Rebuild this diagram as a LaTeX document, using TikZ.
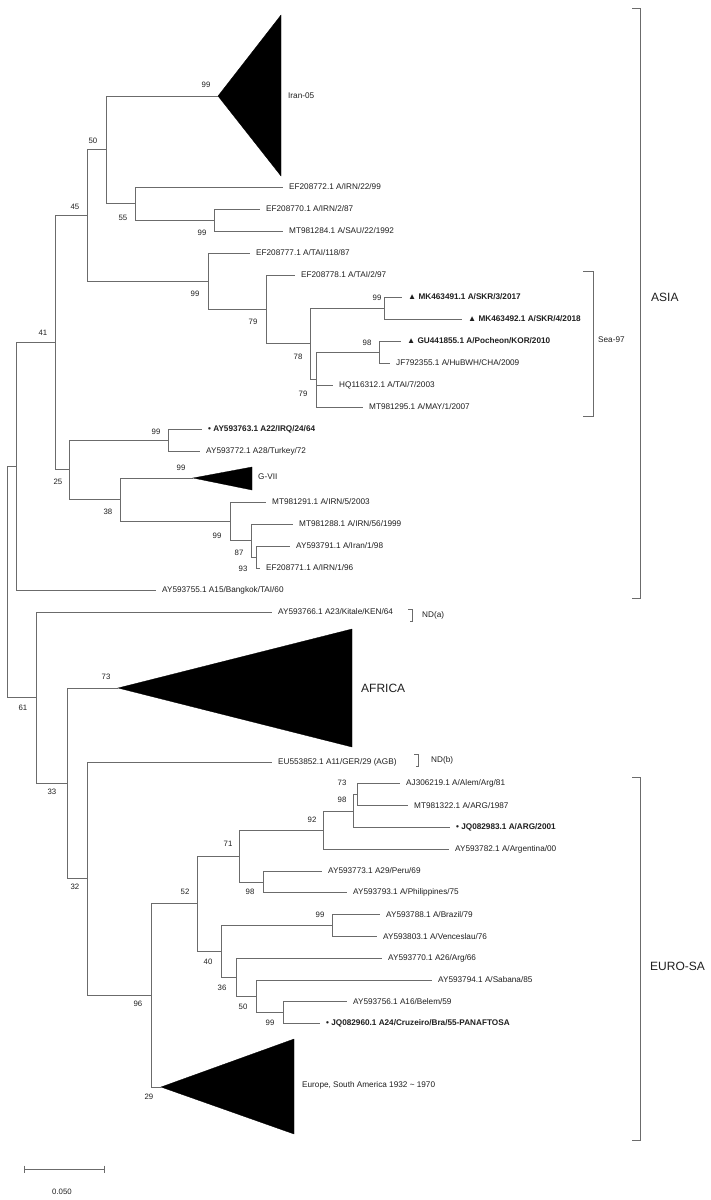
\documentclass[tikz,border=0pt]{standalone}
\usepackage{fontspec}
\setmainfont{Liberation Sans}
\usetikzlibrary{calc}
\newcommand{\lfnt}{\fontsize{8.2}{9}\selectfont}
\newcommand{\bfnt}{\fontsize{7.8}{9}\selectfont}
\newcommand{\rfnt}{\fontsize{12}{14}\selectfont}
\definecolor{linec}{gray}{0.42}
\definecolor{txtc}{gray}{0.12}
\tikzset{
  br/.style={draw=linec, line width=0.65pt},
  brk/.style={draw=linec, line width=0.65pt},
  leaf/.style={anchor=west, inner sep=0pt, xshift=6pt, font=\lfnt, text=txtc},
  bleaf/.style={leaf, font=\lfnt\bfseries},
  boot/.style={inner sep=0pt, font=\bfnt, text=txtc},
  clade/.style={fill=black, draw=black, line width=0.3pt, line join=miter},
  cladelab/.style={anchor=west, inner sep=0pt, font=\lfnt, text=txtc},
  region/.style={anchor=west, inner sep=0pt, font=\rfnt, text=txtc},
}
\begin{document}
\begin{tikzpicture}[x=1pt,y=-1pt]
\useasboundingbox[fill=white] (0,0) rectangle (711,1200);
% ---------- upper part (ASIA) ----------
\coordinate (r) at (7,582);
\coordinate (n16) at (16,466.3);
\coordinate (n55) at (55,342.65);
\coordinate (n87) at (87,215.5);
\coordinate (n106) at (106,149.8);
\coordinate (aIran) at (218,96);
\coordinate (n135) at (135,203.5);
\coordinate (t1) at (283,187);
\coordinate (n214) at (214,220);
\coordinate (t2) at (260,209);
\coordinate (t3) at (283,231);
\coordinate (n208) at (208,281.2);
\coordinate (t4) at (250,253);
\coordinate (n266) at (266,309.4);
\coordinate (t5) at (295,275);
\coordinate (n310) at (310,343.8);
\coordinate (n384) at (384,308);
\coordinate (t6) at (402,297);
\coordinate (t7) at (462,319);
\coordinate (n316) at (316,379.5);
\coordinate (n379) at (379,352);
\coordinate (t8) at (401,341);
\coordinate (t9) at (390,363);
\coordinate (t10) at (333,385);
\coordinate (t11) at (363,407);
\coordinate (n69) at (69,469.8);
\coordinate (n168) at (168,440);
\coordinate (t12) at (202,429);
\coordinate (t13) at (200,451);
\coordinate (n120) at (120,499.6);
\coordinate (aG) at (193,478);
\coordinate (n230) at (230,521.3);
\coordinate (t14) at (266,502);
\coordinate (n251) at (251,540.5);
\coordinate (t15) at (293,524);
\coordinate (n256u) at (256,557);
\coordinate (t16) at (290,546);
\coordinate (t17) at (260,568);
\coordinate (t18) at (156,590);
% ---------- lower part ----------
\coordinate (n36) at (36,697.7);
\coordinate (t19) at (272,612);
\coordinate (n67) at (67,783.3);
\coordinate (aAf) at (118,688);
\coordinate (n87b) at (87,878.7);
\coordinate (t20) at (272,762);
\coordinate (n151) at (151,995.4);
\coordinate (aEu) at (161,1087);
\coordinate (n197) at (197,903.7);
\coordinate (n239) at (239,856);
\coordinate (n323) at (323,830.1);
\coordinate (n353) at (353,811);
\coordinate (n357) at (357,794.7);
\coordinate (t21) at (400,783.8);
\coordinate (t22) at (408,805.6);
\coordinate (t23) at (450,827.4);
\coordinate (t24) at (449,849.2);
\coordinate (n263) at (263,881.9);
\coordinate (t25) at (322,871);
\coordinate (t26) at (347,892.8);
\coordinate (n221) at (221,951.4);
\coordinate (n332) at (332,925.5);
\coordinate (t27) at (380,914.6);
\coordinate (t28) at (377,936.4);
\coordinate (n236) at (236,977.3);
\coordinate (t29) at (382,958.2);
\coordinate (n256l) at (256,996.4);
\coordinate (t30) at (432,980);
\coordinate (n283) at (283,1012.7);
\coordinate (t31) at (347,1001.8);
\coordinate (t32) at (320,1023.6);

% ---------- branches ----------
\draw[br] (r) |- (n16);  \draw[br] (r) |- (n36);
\draw[br] (n16) |- (n55); \draw[br] (n16) |- (t18);
\draw[br] (n55) |- (n87); \draw[br] (n55) |- (n69);
\draw[br] (n87) |- (n106); \draw[br] (n87) |- (n208);
\draw[br] (n106) |- (aIran); \draw[br] (n106) |- (n135);
\draw[br] (n135) |- (t1); \draw[br] (n135) |- (n214);
\draw[br] (n214) |- (t2); \draw[br] (n214) |- (t3);
\draw[br] (n208) |- (t4); \draw[br] (n208) |- (n266);
\draw[br] (n266) |- (t5); \draw[br] (n266) |- (n310);
\draw[br] (n310) |- (n384); \draw[br] (n310) |- (n316);
\draw[br] (n384) |- (t6); \draw[br] (n384) |- (t7);
\draw[br] (n316) |- (n379); \draw[br] (n316) |- (t10); \draw[br] (n316) |- (t11);
\draw[br] (n379) |- (t8); \draw[br] (n379) |- (t9);
\draw[br] (n69) |- (n168); \draw[br] (n69) |- (n120);
\draw[br] (n168) |- (t12); \draw[br] (n168) |- (t13);
\draw[br] (n120) |- (aG); \draw[br] (n120) |- (n230);
\draw[br] (n230) |- (t14); \draw[br] (n230) |- (n251);
\draw[br] (n251) |- (t15); \draw[br] (n251) |- (n256u);
\draw[br] (n256u) |- (t16); \draw[br] (n256u) |- (t17);
\draw[br] (n36) |- (t19); \draw[br] (n36) |- (n67);
\draw[br] (n67) |- (aAf); \draw[br] (n67) |- (n87b);
\draw[br] (n87b) |- (t20); \draw[br] (n87b) |- (n151);
\draw[br] (n151) |- (n197); \draw[br] (n151) |- (aEu);
\draw[br] (n197) |- (n239); \draw[br] (n197) |- (n221);
\draw[br] (n239) |- (n323); \draw[br] (n239) |- (n263);
\draw[br] (n323) |- (n353); \draw[br] (n323) |- (t24);
\draw[br] (n353) |- (n357); \draw[br] (n353) |- (t23);
\draw[br] (n357) |- (t21); \draw[br] (n357) |- (t22);
\draw[br] (n263) |- (t25); \draw[br] (n263) |- (t26);
\draw[br] (n221) |- (n332); \draw[br] (n221) |- (n236);
\draw[br] (n332) |- (t27); \draw[br] (n332) |- (t28);
\draw[br] (n236) |- (t29); \draw[br] (n236) |- (n256l);
\draw[br] (n256l) |- (t30); \draw[br] (n256l) |- (n283);
\draw[br] (n283) |- (t31); \draw[br] (n283) |- (t32);

% ---------- collapsed clades ----------
\fill[clade] (aIran) -- (281,15) -- (281,176) -- cycle;
\fill[clade] (aG) -- (252,467) -- (252,490) -- cycle;
\fill[clade] (aAf) -- (352,629) -- (352,747) -- cycle;
\fill[clade] (aEu) -- (294,1039) -- (294,1134) -- cycle;
\node[cladelab] (lIran) at (288,96) {Iran-05};
\node[cladelab] (lG) at (258,477) {G-VII};
\node[region] (lAf) at (361,688) {AFRICA};
\node[cladelab] (lEu) at (302,1085) {Europe, South America 1932 \char"007E{} 1970};

% ---------- leaf labels ----------
\node[leaf] (L1) at (t1) {EF208772.1 A/IRN/22/99};
\node[leaf] (L2) at (t2) {EF208770.1 A/IRN/2/87};
\node[leaf] (L3) at (t3) {MT981284.1 A/SAU/22/1992};
\node[leaf] (L4) at (t4) {EF208777.1 A/TAI/118/87};
\node[leaf] (L5) at (t5) {EF208778.1 A/TAI/2/97};
\node[bleaf] (L6) at (t6) {▲ MK463491.1 A/SKR/3/2017};
\node[bleaf] (L7) at (t7) {▲ MK463492.1 A/SKR/4/2018};
\node[bleaf] (L8) at (t8) {▲ GU441855.1 A/Pocheon/KOR/2010};
\node[leaf] (L9) at (t9) {JF792355.1 A/HuBWH/CHA/2009};
\node[leaf] (L10) at (t10) {HQ116312.1 A/TAI/7/2003};
\node[leaf] (L11) at (t11) {MT981295.1 A/MAY/1/2007};
\node[bleaf] (L12) at (t12) {• AY593763.1 A22/IRQ/24/64};
\node[leaf] (L13) at (t13) {AY593772.1 A28/Turkey/72};
\node[leaf] (L14) at (t14) {MT981291.1 A/IRN/5/2003};
\node[leaf] (L15) at (t15) {MT981288.1 A/IRN/56/1999};
\node[leaf] (L16) at (t16) {AY593791.1 A/Iran/1/98};
\node[leaf] (L17) at (t17) {EF208771.1 A/IRN/1/96};
\node[leaf] (L18) at (t18) {AY593755.1 A15/Bangkok/TAI/60};
\node[leaf] (L19) at (t19) {AY593766.1 A23/Kitale/KEN/64};
\node[leaf] (L20) at (t20) {EU553852.1 A11/GER/29 (AGB)};
\node[leaf] (L21) at (t21) {AJ306219.1 A/Alem/Arg/81};
\node[leaf] (L22) at (t22) {MT981322.1 A/ARG/1987};
\node[bleaf] (L23) at (t23) {• JQ082983.1 A/ARG/2001};
\node[leaf] (L24) at (t24) {AY593782.1 A/Argentina/00};
\node[leaf] (L25) at (t25) {AY593773.1 A29/Peru/69};
\node[leaf] (L26) at (t26) {AY593793.1 A/Philippines/75};
\node[leaf] (L27) at (t27) {AY593788.1 A/Brazil/79};
\node[leaf] (L28) at (t28) {AY593803.1 A/Venceslau/76};
\node[leaf] (L29) at (t29) {AY593770.1 A26/Arg/66};
\node[leaf] (L30) at (t30) {AY593794.1 A/Sabana/85};
\node[leaf] (L31) at (t31) {AY593756.1 A16/Belem/59};
\node[bleaf] (L32) at (t32) {• JQ082960.1 A24/Cruzeiro/Bra/55-PANAFTOSA};

% ---------- bootstrap values ----------
\node[boot] (b1) at (206,85) {99};
\node[boot] (b2) at (93,141) {50};
\node[boot] (b3) at (123,218) {55};
\node[boot] (b4) at (202,233) {99};
\node[boot] (b5) at (75,207) {45};
\node[boot] (b6) at (195,294) {99};
\node[boot] (b7) at (253,322) {79};
\node[boot] (b8) at (377,298) {99};
\node[boot] (b9) at (298,357) {78};
\node[boot] (b10) at (367,343) {98};
\node[boot] (b11) at (303,394) {79};
\node[boot] (b12) at (43,333) {41};
\node[boot] (b13) at (156,432) {99};
\node[boot] (b14) at (58,482) {25};
\node[boot] (b15) at (181,468) {99};
\node[boot] (b16) at (108,512) {38};
\node[boot] (b17) at (217,536) {99};
\node[boot] (b18) at (239,553) {87};
\node[boot] (b19) at (243,569) {93};
\node[boot] (b20) at (23,708) {61};
\node[boot] (b21) at (106,677) {73};
\node[boot] (b22) at (52,792) {33};
\node[boot] (b23) at (75,887) {32};
\node[boot] (b24) at (342,783) {73};
\node[boot] (b25) at (342,800) {98};
\node[boot] (b26) at (312,820) {92};
\node[boot] (b27) at (228,844) {71};
\node[boot] (b28) at (250,892) {98};
\node[boot] (b29) at (185,892) {52};
\node[boot] (b30) at (320,915) {99};
\node[boot] (b31) at (208,962) {40};
\node[boot] (b32) at (222,988) {36};
\node[boot] (b33) at (243,1007) {50};
\node[boot] (b34) at (270,1023) {99};
\node[boot] (b35) at (138,1004) {96};
\node[boot] (b36) at (149,1097) {29};

% ---------- brackets ----------
\draw[brk] (632,8) -- (640,8) -- (640,598) -- (632,598);
\node[region] (lAsia) at (651,297) {ASIA};
\draw[brk] (583,271) -- (593,271) -- (593,416) -- (583,416);
\node[cladelab] (lSea) at (598,340) {Sea-97};
\draw[brk] (632,777) -- (640,777) -- (640,1140) -- (632,1140);
\node[region] (lEuro) at (650,966) {EURO-SA};
\draw[brk] (408,609) -- (412,609) -- (412,621) -- (410,621);
\node[cladelab] (lNDa) at (422,615) {ND(a)};
\draw[brk] (414,754) -- (418,754) -- (418,766) -- (416,766);
\node[cladelab] (lNDb) at (431,760) {ND(b)};

% ---------- scale bar ----------
\coordinate (s1) at (24,1169);
\coordinate (s2) at (104,1169);
\draw[br] (s1) -- (s2);
\draw[br] ($(s1)+(0,-3.5)$) -- ($(s1)+(0,3.5)$);
\draw[br] ($(s2)+(0,-3.5)$) -- ($(s2)+(0,3.5)$);
\node[boot] (sl) at (62,1192) {0.050};
\end{tikzpicture}
\end{document}
